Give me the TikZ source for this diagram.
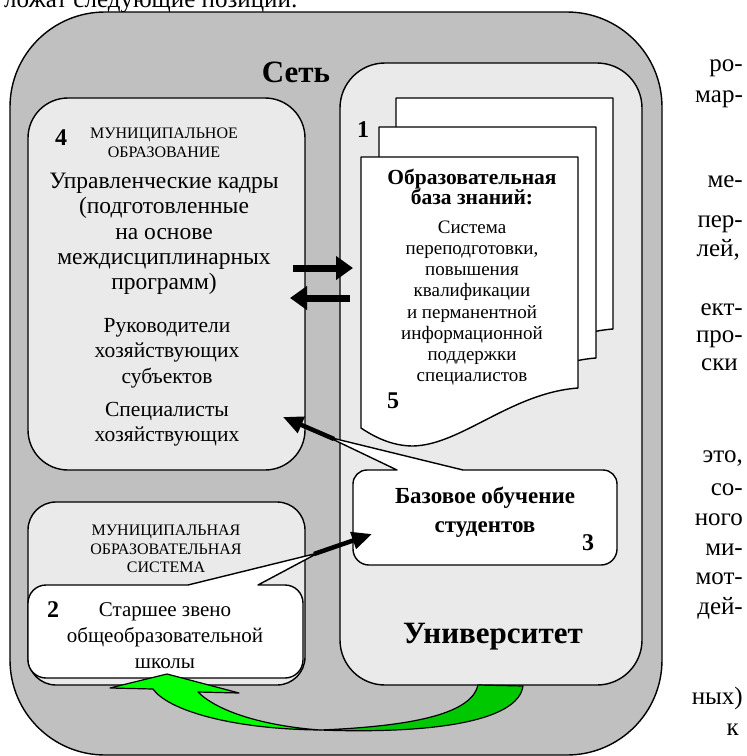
\documentclass[tikz,border=0pt]{standalone}
\usepackage{fontspec}
\setmainfont{Liberation Serif}
\usetikzlibrary{arrows.meta}
\definecolor{netgray}{HTML}{C0C0C0}
\definecolor{boxgray}{HTML}{EAEAEA}
\definecolor{greendark}{HTML}{00C800}
\definecolor{greenlight}{HTML}{00FF00}
\newcommand\DocPage[2]{%
  \begin{scope}[shift={(#1,#2)}]
    \draw[frame,fill=white] (0,0) -- (217,0) -- (217,231)
      .. controls (150,236) and (100,288) .. (52,289)
      .. controls (30,289) and (12,279) .. (0,271) -- cycle;
  \end{scope}}
\begin{document}
\begin{tikzpicture}[x=1pt,y=-1pt,line join=round,
  frame/.style={draw=black,line width=1.4pt},
  rbox/.style={frame,inner sep=0pt,rectangle},
  txt/.style={inner sep=0pt,align=center,font=\fontsize{21.5}{25.3}\selectfont},
  bigtxt/.style={inner sep=0pt,align=center,font=\fontsize{23.5}{25.3}\selectfont},
  doctxt/.style={inner sep=0pt,align=center,font=\fontsize{19}{21.2}\selectfont},
  boldtxt/.style={inner sep=0pt,align=center,font=\fontsize{21.5}{20.5}\selectfont\bfseries},
  capstxt/.style={inner sep=0pt,align=center,font=\fontsize{16}{18.5}\selectfont},
  num/.style={inner sep=0pt,font=\fontsize{24}{26}\selectfont\bfseries},
  title/.style={inner sep=0pt,font=\fontsize{31}{33}\selectfont\bfseries},
  pagetxt/.style={inner sep=0pt,anchor=base east,font=\fontsize{25}{27}\selectfont},
  blockarrow/.style={line width=7pt,-{Triangle[length=17pt,width=23pt]}},
  callarrow/.style={line width=4.5pt,-{Triangle[length=20pt,width=17pt]}},
  callout/.style={frame,fill=white},
]
\useasboundingbox (0,0) rectangle (747,756);
\clip (0,0) rectangle (747,756);

% running text of the page
\node[pagetxt,anchor=base west] (topline) at (4,7) {ложат следующие позиции:};
\node[pagetxt] (p1) at (743,71) {ро-};
\node[pagetxt] (p2) at (743,102) {мар-};
\node[pagetxt] (p3) at (743,187) {ме-};
\node[pagetxt] (p4) at (743,227) {пер-};
\node[pagetxt] (p5) at (740,256) {лей,};
\node[pagetxt] (p6) at (743,315) {ект-};
\node[pagetxt] (p7) at (743,342) {про-};
\node[pagetxt] (p8) at (738,370) {ски};
\node[pagetxt] (p9) at (743,462) {это,};
\node[pagetxt] (p10) at (743,495) {со-};
\node[pagetxt] (p11) at (743,525) {ного};
\node[pagetxt] (p12) at (743,555) {ми-};
\node[pagetxt] (p13) at (743,584) {мот-};
\node[pagetxt] (p14) at (743,614) {дей-};
\node[pagetxt] (p15) at (743,704) {ных)};
\node[pagetxt] (p16) at (739,735) {к};

% outer network frame
\node[rbox,fill=netgray,rounded corners=95pt,minimum width=652pt,minimum height=743pt] (net) at (336,383.5) {};
% municipal formation
\node[rbox,fill=boxgray,rounded corners=40pt,minimum width=277pt,minimum height=372pt] (mo) at (166.5,284) {};
% municipal educational system
\node[rbox,fill=boxgray,rounded corners=28pt,minimum width=277pt,minimum height=183pt] (mos) at (166.5,593.5) {};
% university
\node[rbox,fill=boxgray,rounded corners=45pt,minimum width=302pt,minimum height=622pt] (uni) at (491,374) {};

% stacked documents
\DocPage{396}{98}
\DocPage{379}{127}
\DocPage{361}{157}

% callout 3 (basic training)
\draw[callout] (353,484) arc[start angle=180,end angle=270,radius=14] -- (397,470) -- (328,437) -- (463,470)
  -- (603,470) arc[start angle=270,end angle=360,radius=14] -- (617,549)
  arc[start angle=0,end angle=90,radius=16] -- (369,565)
  arc[start angle=90,end angle=180,radius=16] -- cycle;
% callout 2 (senior school)
\draw[callout] (28,603) arc[start angle=180,end angle=270,radius=18] -- (188,585) -- (318,553) -- (258,585)
  -- (285,585) arc[start angle=270,end angle=360,radius=18] -- (303,660)
  arc[start angle=0,end angle=90,radius=18] -- (46,678)
  arc[start angle=90,end angle=180,radius=18] -- cycle;

% black callout arrows
\coordinate (c3from) at (334,439);
\coordinate (c3to) at (283,417);
\draw[callarrow] (c3from) -- (c3to);
\coordinate (c2from) at (314,554);
\coordinate (c2to) at (372,534);
\draw[callarrow] (c2from) -- (c2to);

% block arrows between municipal formation and university
\coordinate (ra1) at (293,268);
\coordinate (ra2) at (353,268);
\draw[blockarrow] (ra1) -- (ra2);
\coordinate (la1) at (350,298);
\coordinate (la2) at (290,298);
\draw[blockarrow] (la1) -- (la2);

% green curved arrow from university to school
\draw[frame,line width=1.2pt,fill=greendark] (478,685) .. controls (472,712) and (420,726) .. (320,730)
  .. controls (430,734) and (518,722) .. (523,686) -- cycle;
\draw[frame,line width=1.2pt,fill=greenlight] (320,730) .. controls (230,729) and (168,710) .. (153,689)
  -- (110,688) -- (167,674) -- (239,693) -- (198,692)
  .. controls (218,712) and (265,726) .. (320,730) -- cycle;

% texts
\node[title] (tnet) at (296,72) {Сеть};
\node[title] (tuni) at (493,637) {Университет};
\node[num] (n4) at (61,138) {4};
\node[capstxt] (tmo) at (164,143) {МУНИЦИПАЛЬНОЕ\\ОБРАЗОВАНИЕ};
\node[bigtxt] (tmgr) at (164,234) {Управленческие кадры\\(подготовленные\\на основе\\междисциплинарных\\программ)};
\node[txt] (thead) at (167,353) {Руководители\\хозяйствующих\\субъектов};
\node[txt] (tspec) at (167,424) {Специалисты\\хозяйствующих};
\node[capstxt] (tmos) at (166,549) {МУНИЦИПАЛЬНАЯ\\ОБРАЗОВАТЕЛЬНАЯ\\СИСТЕМА};
\node[num] (n2) at (53,610) {2};
\node[txt,font=\fontsize{21}{26}\selectfont] (tschool) at (165,636) {Старшее звено\\общеобразовательной\\школы};
\node[num] (n1) at (363,130) {1};
\node[boldtxt] (tkb) at (472,187) {Образовательная\\база знаний:};
\node[doctxt] (tkbt) at (472,303) {Система\\переподготовки,\\повышения\\квалификации\\и перманентной\\информационной\\поддержки\\специалистов};
\node[num] (n5) at (393,401) {5};
\node[boldtxt,font=\fontsize{23}{29}\selectfont\bfseries] (tbase) at (485,512) {Базовое обучение\\студентов};
\node[num] (n3) at (588,543) {3};
\end{tikzpicture}
\end{document}
